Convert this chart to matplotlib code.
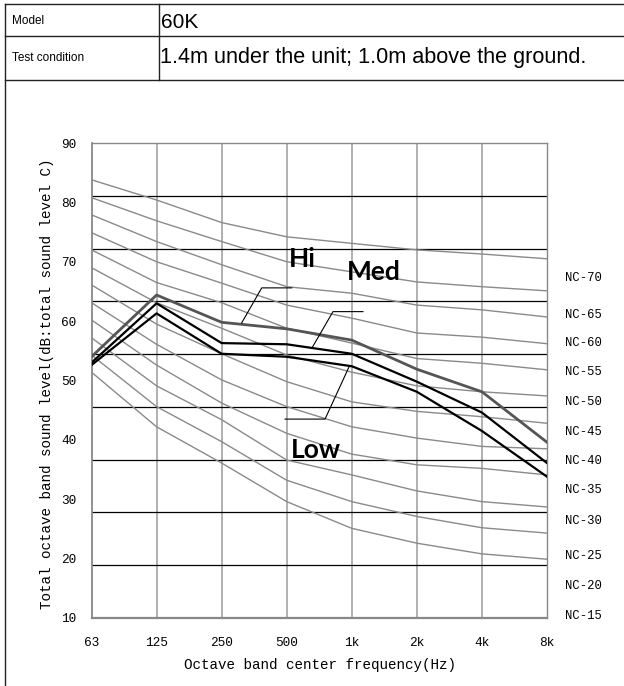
import matplotlib.pyplot as plt
from matplotlib.lines import Line2D

freqs = ['63', '125', '250', '500', '1k', '2k', '4k', '8k']

# NC reference curves, top (c1) to bottom (c12), dB on the chart scale
nc_curves = [
    [83.8, 80.4, 76.6, 74.2, 73.1, 72.0, 71.3, 70.5],
    [80.8, 76.9, 73.4, 70.0, 68.3, 66.6, 65.8, 65.1],
    [77.9, 73.4, 69.5, 65.8, 64.7, 62.7, 61.9, 60.7],
    [74.9, 70.0, 66.4, 62.7, 60.5, 58.0, 57.3, 56.2],
    [72.0, 66.5, 63.1, 58.8, 56.3, 53.7, 52.9, 51.8],
    [69.0, 63.1, 58.8, 54.3, 51.4, 49.1, 48.1, 47.4],
    [66.1, 59.5, 54.5, 49.8, 46.4, 44.8, 43.9, 42.8],
    [63.1, 56.1, 50.1, 45.6, 42.2, 40.3, 38.9, 38.5],
    [60.2, 52.6, 46.2, 41.1, 37.6, 35.8, 35.2, 34.1],
    [57.2, 49.1, 43.4, 36.6, 34.1, 31.4, 29.6, 28.7],
    [54.3, 45.6, 39.7, 33.2, 29.6, 27.1, 25.2, 24.3],
    [51.4, 42.2, 36.1, 29.6, 25.1, 22.6, 20.8, 19.9],
]
nc_labels = ['NC-70', 'NC-65', 'NC-60', 'NC-55', 'NC-50', 'NC-45',
             'NC-40', 'NC-35', 'NC-30', 'NC-25', 'NC-20', 'NC-15']
nc_label_y = [67.2, 61.1, 56.4, 51.4, 46.4, 41.4, 36.4, 31.5, 26.4, 20.4, 15.4, 10.4]

hi = [54.0, 64.4, 59.8, 58.7, 56.8, 51.9, 48.1, 39.6]
med = [53.0, 63.0, 56.3, 56.1, 54.5, 49.8, 44.6, 36.1]
low = [52.6, 61.3, 54.5, 54.0, 52.4, 48.1, 41.5, 33.8]

mono = 'Liberation Mono'

fig = plt.figure(figsize=(6.24, 6.86), dpi=100)
W, H = 624.0, 686.0

# header table
def fline(x0, y0, x1, y1, lw=1.0, c='#222222'):
    fig.add_artist(Line2D([x0 / W, x1 / W], [1 - y0 / H, 1 - y1 / H], lw=lw, color=c))

fline(5, 3.5, 624, 3.5)
fline(5, 35.5, 624, 35.5)
fline(5, 80, 624, 80)
fline(5, 3.5, 5, 686)
fline(158.5, 3.5, 158.5, 80)

fig.text(12 / W, 1 - 21 / H, 'Model', fontsize=8.5, family='Liberation Sans', va='center')
fig.text(161 / W, 1 - 22 / H, '60K', fontsize=15, family='Liberation Sans', va='center')
fig.text(12 / W, 1 - 58 / H, 'Test condition', fontsize=8.5, family='Liberation Sans', va='center')
fig.text(160 / W, 1 - 58 / H, '1.4m under the unit; 1.0m above the ground.', fontsize=15.6,
         family='Liberation Sans', va='center')

ax = fig.add_axes([91.5 / W, 68 / H, 455.5 / W, 475 / H])
x = list(range(len(freqs)))

for c in nc_curves:
    ax.plot(x, c, color='#8a8a8a', lw=1.0, zorder=2)

ax.plot(x, hi, color='#555555', lw=2.0, zorder=4)
ax.plot(x, med, color='black', lw=1.6, zorder=4)
ax.plot(x, low, color='black', lw=1.6, zorder=4)

ax.set_xlim(0, 7)
ax.set_ylim(10, 90)

# grid: vertical at each octave, horizontal in 9 equal bands
for i in range(1, 7):
    ax.axvline(i, color='#aaaaaa', lw=1.3, zorder=1)
for k in range(1, 9):
    ax.axhline(10 + k * 80 / 9, color='black', lw=0.9, zorder=1)

for s in ax.spines.values():
    s.set_color('#888888')
    s.set_linewidth(1.0)
ax.spines['bottom'].set_linewidth(1.6)
ax.spines['left'].set_linewidth(1.3)

ax.set_xticks(x)
ax.set_xticklabels(freqs, family=mono, fontsize=9.2)
ax.set_yticks(range(10, 91, 10))
ax.set_yticklabels([str(v) for v in range(10, 91, 10)], family=mono, fontsize=9.2)
ax.tick_params(axis='x', length=0, pad=14)
ax.tick_params(axis='y', length=0, pad=11)

fig.text(319.5 / W, 1 - 665 / H, 'Octave band center frequency(Hz)', family=mono,
         fontsize=10.3, ha='center', va='center')
fig.text(47 / W, 1 - 383.5 / H, 'Total octave band sound level(dB:total sound level C)',
         family=mono, fontsize=10.3, rotation=90, ha='center', va='center')

for lab, yv in zip(nc_labels, nc_label_y):
    ax.text(7.28, yv, lab, family=mono, fontsize=8.8, va='center', ha='left', clip_on=False)

# mode labels with leader lines
ax.plot([2.308, 2.616, 3.077], [59.7, 65.6, 65.6], color='black', lw=0.8, zorder=5)
ax.plot([3.384, 3.711, 4.172], [55.4, 61.6, 61.6], color='black', lw=0.8, zorder=5)
ax.plot([3.962, 3.589, 2.974], [52.4, 43.5, 43.5], color='black', lw=0.8, zorder=5)
ax.text(3.03, 70.4, 'Hi', family='Lato', weight='bold', fontsize=19, va='center', zorder=6)
ax.text(3.92, 68.3, 'Med', family='Lato', weight='bold', fontsize=19, va='center', zorder=6)
ax.text(3.07, 38.3, 'Low', family='Lato', weight='bold', fontsize=19, va='center', zorder=6)

fig.savefig('out.png', dpi=100, facecolor='white')
